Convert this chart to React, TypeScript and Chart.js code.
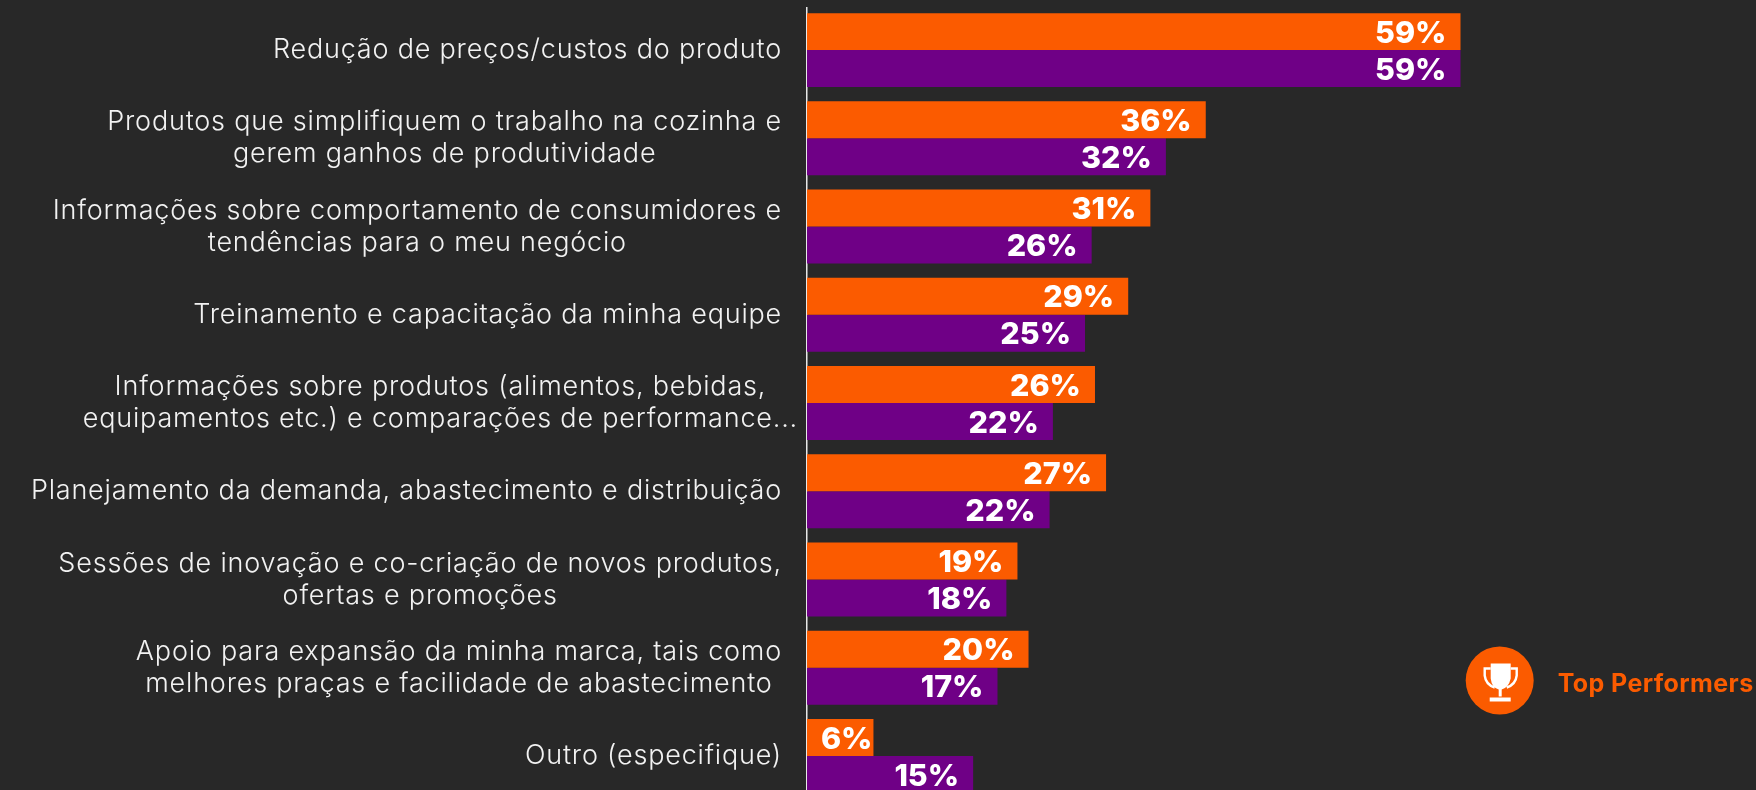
import React, { useEffect, useRef } from "react";
import { Chart, registerables } from "chart.js";

Chart.register(...registerables);

const categories: string[][] = [
  ["Redução de preços/custos do produto"],
  ["Produtos que simplifiquem o trabalho na cozinha e", "gerem ganhos de produtividade"],
  ["Informações sobre comportamento de consumidores e", "tendências para o meu negócio"],
  ["Treinamento e capacitação da minha equipe"],
  ["Informações sobre produtos (alimentos, bebidas,", "equipamentos etc.) e comparações de performance..."],
  ["Planejamento da demanda, abastecimento e distribuição"],
  ["Sessões de inovação e co-criação de novos produtos,", "ofertas e promoções"],
  ["Apoio para expansão da minha marca, tais como", "melhores praças e facilidade de abastecimento"],
  ["Outro (especifique)"],
];
const topPerformers = [59, 36, 31, 29, 26, 27, 19, 20, 6];
const total = [59, 32.4, 25.7, 25.1, 22.2, 21.9, 18, 17.2, 15];
const legendLabel = "Top Performers";

const ORANGE = "#FB5B00";
const PURPLE = "#6F0086";
const BG = "#282828";
const TEXT = "#F2F2F2";
const FAMILY = "Inter, 'Noto Sans', sans-serif";
const LABEL_FONT = `300 27px ${FAMILY}`;
const LABEL_SPACING = "0.8px";
const VALUE_FONT = `800 30.5px ${FAMILY}`;

const drawPlugin = {
  id: "overlay",
  afterDatasetsDraw(chart: any) {
    const { ctx } = chart;
    const yScale = chart.scales.y;
    ctx.save();

    // the axis line starts just below the top of the plot area
    ctx.fillStyle = BG;
    ctx.fillRect(chart.chartArea.left - 4, 0, 8, 7);

    // value labels
    ctx.font = VALUE_FONT;
    ctx.fillStyle = "#FFFFFF";
    ctx.textAlign = "right";
    ctx.textBaseline = "middle";
    chart.data.datasets.forEach((ds: any, di: number) => {
      chart.getDatasetMeta(di).data.forEach((bar: any, i: number) => {
        const inset = bar.x - bar.base < 80 ? 1 : 14;
        ctx.fillText(`${Math.round(ds.data[i])}%`, bar.x - inset, bar.y + 2);
      });
    });

    // category labels, lines centred in a right-aligned block
    ctx.font = LABEL_FONT;
    (ctx as any).letterSpacing = LABEL_SPACING;
    ctx.fillStyle = TEXT;
    ctx.textAlign = "center";
    const lh = 32;
    yScale.ticks.forEach((_: any, i: number) => {
      const lines = categories[i];
      const w = Math.max(...lines.map((l) => ctx.measureText(l).width));
      const right = i === 4 ? 798 : 782;
      const cx = right - w / 2;
      const cy = yScale.getPixelForTick(i);
      lines.forEach((l, k) => {
        ctx.fillText(l, cx, cy + (k - (lines.length - 1) / 2) * lh);
      });
    });
    (ctx as any).letterSpacing = "0px";

    // legend
    const lx = 1499.7;
    const ly = 680.5;
    ctx.fillStyle = ORANGE;
    ctx.beginPath();
    ctx.arc(lx, ly, 34, 0, Math.PI * 2);
    ctx.fill();
    ctx.fillStyle = "#FFFFFF";
    ctx.strokeStyle = "#FFFFFF";
    ctx.lineWidth = 2.4;
    ctx.beginPath();
    ctx.moveTo(lx - 9, ly - 17);
    ctx.lineTo(lx + 11, ly - 17);
    ctx.lineTo(lx + 11, ly - 2);
    ctx.quadraticCurveTo(lx + 9, ly + 7, lx + 2, ly + 9);
    ctx.lineTo(lx + 2, ly + 16);
    ctx.lineTo(lx - 1, ly + 16);
    ctx.lineTo(lx - 1, ly + 9);
    ctx.quadraticCurveTo(lx - 8, ly + 7, lx - 9, ly - 2);
    ctx.closePath();
    ctx.fill();
    ctx.fillRect(lx - 10, ly + 17, 21, 4);
    ctx.beginPath();
    ctx.moveTo(lx - 9, ly - 12);
    ctx.lineTo(lx - 15, ly - 12);
    ctx.lineTo(lx - 15, ly - 5);
    ctx.quadraticCurveTo(lx - 14, ly + 4, lx - 5, ly + 7);
    ctx.moveTo(lx + 11, ly - 12);
    ctx.lineTo(lx + 17, ly - 12);
    ctx.lineTo(lx + 17, ly - 5);
    ctx.quadraticCurveTo(lx + 16, ly + 4, lx + 7, ly + 7);
    ctx.stroke();

    ctx.fillStyle = ORANGE;
    ctx.textAlign = "left";
    ctx.textBaseline = "alphabetic";
    ctx.font = `700 25px ${FAMILY}`;
    (ctx as any).letterSpacing = "0.4px";
    ctx.fillText(legendLabel, 1557.7, 692);
    (ctx as any).letterSpacing = "0px";
    ctx.restore();
  },
};

export default function App() {
  const ref = useRef<HTMLCanvasElement | null>(null);
  useEffect(() => {
    document.body.style.margin = "0";
    document.body.style.background = BG;
    const chart = new Chart(ref.current as HTMLCanvasElement, {
      type: "bar",
      data: {
        labels: categories as any,
        datasets: [
          { label: legendLabel, data: topPerformers, backgroundColor: ORANGE, categoryPercentage: 0.838, barPercentage: 1 },
          { label: "Total", data: total, backgroundColor: PURPLE, categoryPercentage: 0.838, barPercentage: 1 },
        ],
      },
      options: {
        indexAxis: "y",
        responsive: false,
        animation: false,
        layout: { padding: { top: 6, right: 7.5, bottom: 0, left: 0 } },
        plugins: { legend: { display: false }, tooltip: { enabled: false } },
        scales: {
          x: { display: false, min: 0, max: 85 },
          y: {
            afterFit: (s: any) => {
              s.width = 807;
            },
            grid: { display: true, color: "transparent", drawTicks: false },
            border: { display: true, color: "#E8E8E8", width: 1.5 },
            ticks: { display: false },
          },
        },
      } as any,
      plugins: [drawPlugin],
    });
    return () => chart.destroy();
  }, []);
  return (
    <div style={{ position: "absolute", left: 0, top: 0, width: 1756, height: 790, overflow: "hidden", background: BG }}>
      <canvas ref={ref} width={1756} height={800} style={{ display: "block" }} />
    </div>
  );
}
